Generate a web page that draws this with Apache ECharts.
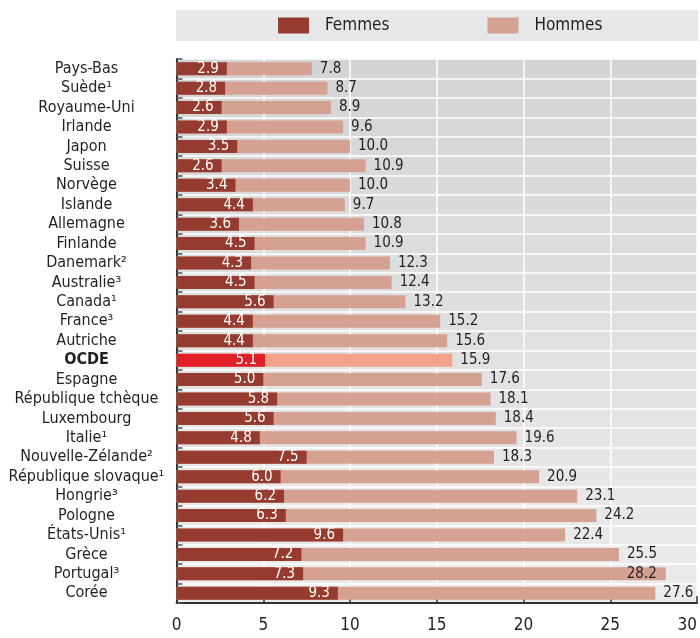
<!DOCTYPE html>
<html>
<head>
<meta charset="utf-8">
<script src="https://cdn.jsdelivr.net/npm/echarts@6/dist/echarts.min.js"></script>
<style>
  html, body { margin: 0; padding: 0; background: #fff; }
  #chart { width: 700px; height: 638px; }
</style>
</head>
<body>
<div id="chart"></div>
<script>
// Countries, top to bottom
const countries = [
  'Pays-Bas', 'Suède¹', 'Royaume-Uni', 'Irlande', 'Japon', 'Suisse', 'Norvège',
  'Islande', 'Allemagne', 'Finlande', 'Danemark²', 'Australie³', 'Canada¹',
  'France³', 'Autriche', 'OCDE', 'Espagne', 'République tchèque', 'Luxembourg',
  'Italie¹', 'Nouvelle-Zélande²', 'République slovaque¹', 'Hongrie³', 'Pologne',
  'États-Unis¹', 'Grèce', 'Portugal³', 'Corée'
];
const femmes = [
  2.9, 2.8, 2.6, 2.9, 3.5, 2.6, 3.4, 4.4, 3.6, 4.5, 4.3, 4.5, 5.6, 4.4, 4.4,
  5.1, 5.0, 5.8, 5.6, 4.8, 7.5, 6.0, 6.2, 6.3, 9.6, 7.2, 7.3, 9.3
];
const hommes = [
  7.8, 8.7, 8.9, 9.6, 10.0, 10.9, 10.0, 9.7, 10.8, 10.9, 12.3, 12.4, 13.2, 15.2, 15.6,
  15.9, 17.6, 18.1, 18.4, 19.6, 18.3, 20.9, 23.1, 24.2, 22.4, 25.5, 28.2, 27.6
];
const xTicks = [0, 5, 10, 15, 20, 25, 30];
const seriesNames = ['Femmes', 'Hommes'];

const FONT = "'Liberation Sans Narrow', 'Arial Narrow', 'DejaVu Sans Condensed', sans-serif";
const TEXT = '#231f20';
const HIGHLIGHT = 'OCDE';

const colors = {
  femmes: '#953b2f', hommes: '#d4a193',
  femmesHi: '#e01f26', hommesHi: '#f2a38a'
};

const femmesData = femmes.map((v, i) => countries[i] === HIGHLIGHT
  ? { value: v, itemStyle: { color: colors.femmesHi } }
  : v);

const hommesData = hommes.map((v, i) => {
  const item = { value: v };
  if (countries[i] === HIGHLIGHT) item.itemStyle = { color: colors.hommesHi };
  // keep the label inside the bar when it would run past the axis end
  if (v > 28) item.label = { position: 'insideRight', distance: 9 };
  return item;
});

const chart = echarts.init(document.getElementById('chart'), null, { renderer: 'canvas' });

chart.setOption({
  animation: false,
  backgroundColor: '#fff',
  textStyle: { fontFamily: FONT },
  graphic: [{
    type: 'rect',
    left: 176, top: 10,
    shape: { width: 522, height: 31 },
    style: { fill: '#e6e7e8' },
    z: -1
  }],
  legend: {
    data: seriesNames,
    left: 278, top: 17,
    padding: 0,
    itemWidth: 31, itemHeight: 16,
    itemGap: 98,
    icon: 'rect',
    textStyle: { fontFamily: FONT, fontSize: 17, color: TEXT, padding: [0, 0, 0, 11], lineHeight: 16 }
  },
  grid: {
    left: 176.5, right: 2, top: 59, bottom: 35,
    show: true,
    borderWidth: 0,
    backgroundColor: {
      type: 'linear', x: 0, y: 0, x2: 0, y2: 1,
      colorStops: [{ offset: 0, color: '#d3d4d5' }, { offset: 1, color: '#ececec' }]
    }
  },
  xAxis: {
    type: 'value',
    min: xTicks[0], max: xTicks[xTicks.length - 1], interval: 5,
    axisLine: { show: true, lineStyle: { color: '#333', width: 2 } },
    axisTick: { show: true, inside: true, length: 7, lineStyle: { color: '#333', width: 1.5 } },
    axisLabel: { fontFamily: FONT, fontSize: 17, color: TEXT, margin: 14, alignMaxLabel: 'right' },
    splitLine: { show: true, lineStyle: { color: '#fff', width: 1.5 } }
  },
  yAxis: {
    type: 'category',
    data: countries,
    inverse: true,
    axisLine: { show: true, lineStyle: { color: '#333', width: 2 } },
    axisTick: { show: true, inside: true, length: 6, interval: 0, lineStyle: { color: '#555', width: 1.5 } },
    splitLine: { show: true, interval: 0, lineStyle: { color: '#fff', width: 1.5 } },
    axisLabel: {
      interval: 0,
      fontFamily: FONT, fontSize: 16, color: TEXT,
      align: 'center', margin: 90,
      formatter: v => v === HIGHLIGHT ? '{b|' + v + '}' : v,
      rich: { b: { fontFamily: FONT, fontSize: 16, fontWeight: 'bold', color: TEXT } }
    }
  },
  series: [
    {
      name: seriesNames[1],
      type: 'bar',
      data: hommesData,
      barWidth: 13,
      barGap: '-100%',
      itemStyle: { color: colors.hommes },
      label: {
        show: true, position: 'right', distance: 8,
        fontFamily: FONT, fontSize: 15, color: TEXT,
        formatter: p => p.value.toFixed(1)
      }
    },
    {
      name: seriesNames[0],
      type: 'bar',
      data: femmesData,
      barWidth: 13,
      barGap: '-100%',
      itemStyle: { color: colors.femmes },
      label: {
        show: true, position: 'insideRight', distance: 8,
        fontFamily: FONT, fontSize: 15, color: '#fff',
        formatter: p => p.value.toFixed(1)
      }
    }
  ]
});
</script>
</body>
</html>
